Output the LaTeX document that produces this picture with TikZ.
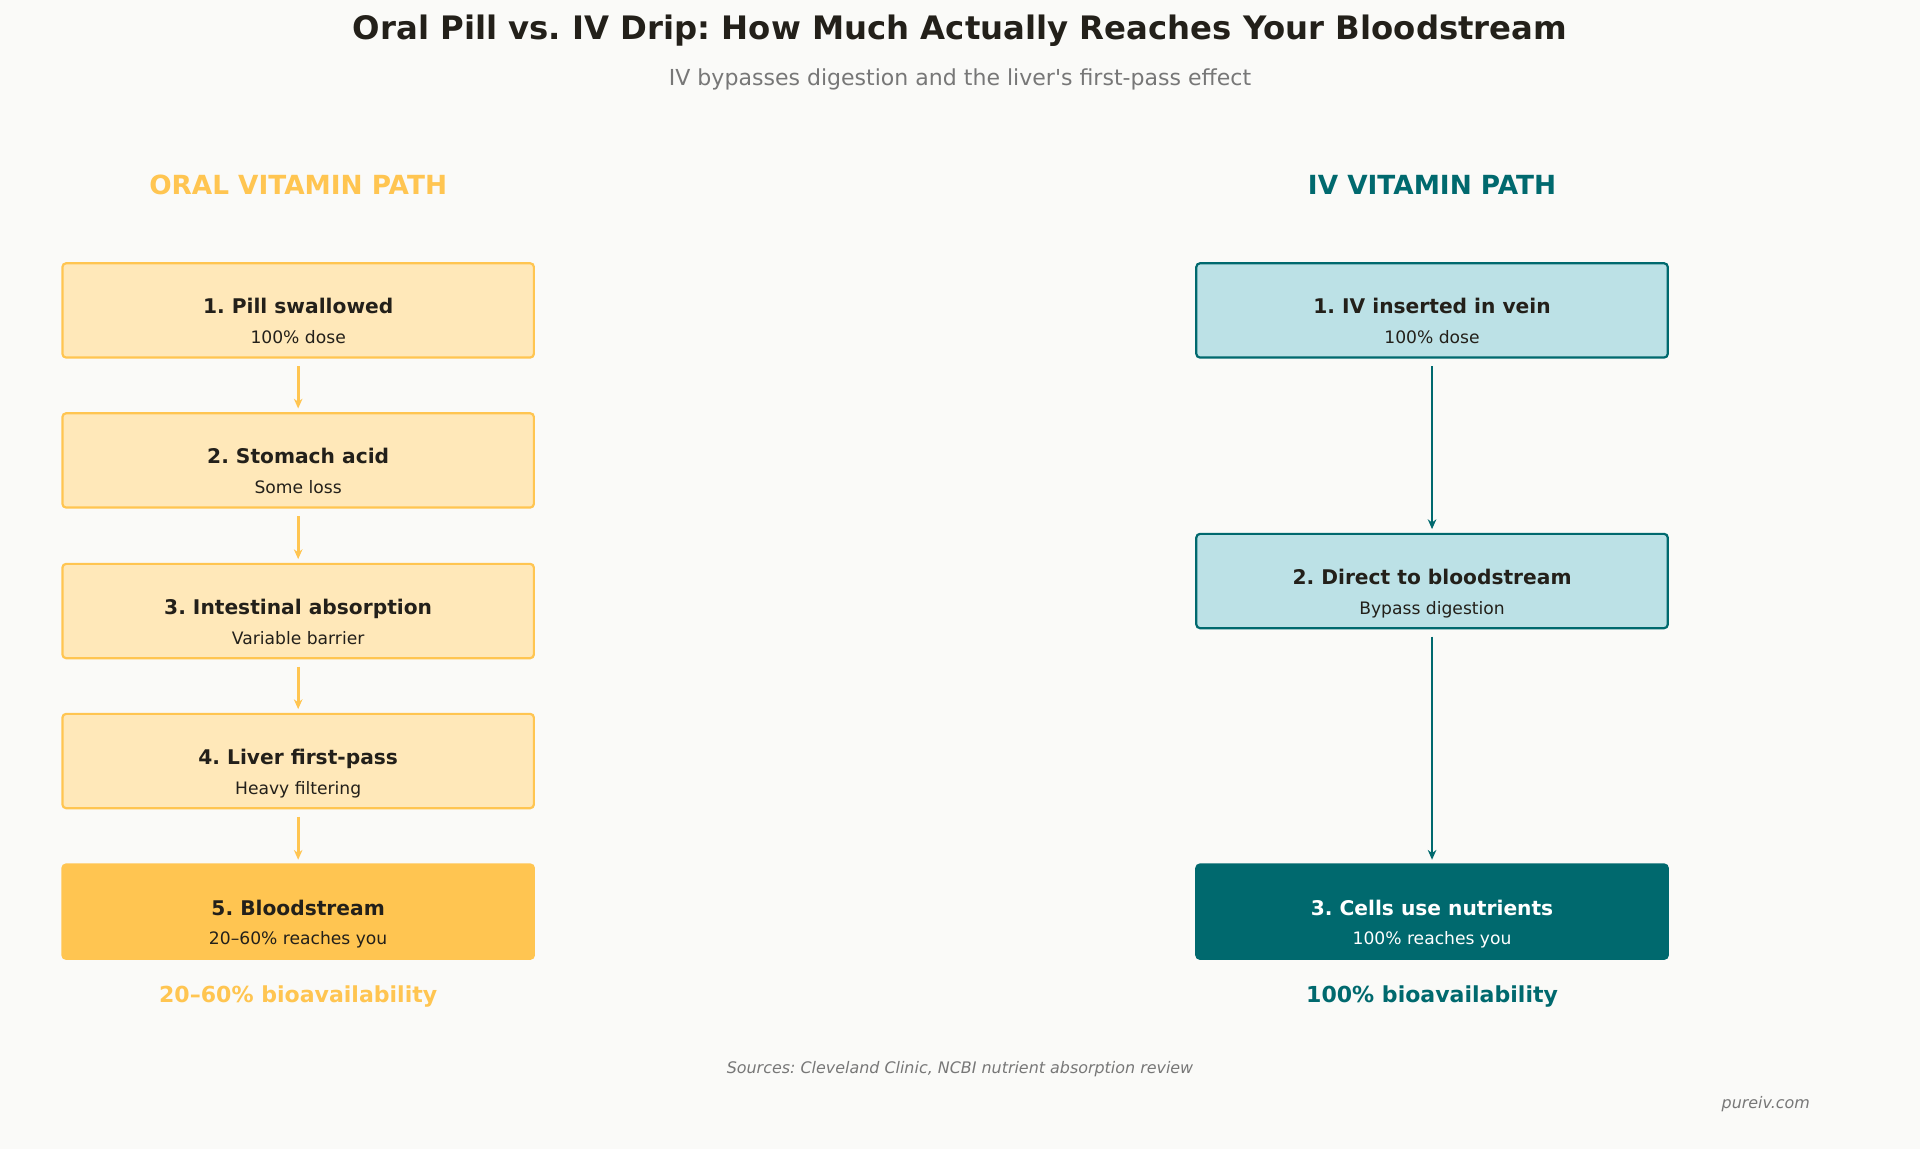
\documentclass[tikz,border=0pt]{standalone}
\usepackage{fontspec}
\setmainfont{DejaVu Sans}
\usetikzlibrary{positioning,arrows.meta}
\definecolor{bgc}{HTML}{FAFAF8}
\definecolor{oran}{HTML}{FFC551}
\definecolor{oranlt}{HTML}{FFE8B9}
\definecolor{teal}{HTML}{00696E}
\definecolor{teallt}{HTML}{BCE1E6}
\definecolor{ink}{HTML}{23201A}
\definecolor{greyt}{HTML}{777777}
\tikzset{
  stagebox/.style={draw, line width=1.8pt, rounded corners=3pt, minimum width=385pt, minimum height=77pt, text=ink},
  oralbox/.style={stagebox, draw=oran, fill=oranlt},
  ivbox/.style={stagebox, draw=teal, fill=teallt},
  oralarr/.style={draw=oran, line width=2.2pt, -{Stealth[length=8pt,width=7pt]}},
  ivarr/.style={draw=teal, line width=2.2pt, -{Stealth[length=8pt,width=7pt]}},
}
\newcommand{\steptext}[2]{\raisebox{-13pt}[0pt][0pt]{\begin{tabular}{c}\fontsize{16.5}{20}\selectfont\bfseries #1\\[10pt]\fontsize{14}{17}\selectfont #2\end{tabular}}}
\frenchspacing
\begin{document}
\begin{tikzpicture}[x=1pt,y=-1pt]
\fill[bgc] (0,0) rectangle (1568,938);
\useasboundingbox (0,0) rectangle (1568,938);
% titles
\node[text=ink, font=\fontsize{26.4}{31}\selectfont\bfseries] (title) at (784,25) {Oral Pill vs. IV Drip: How Much Actually Reaches Your Bloodstream};
\node[text=greyt, font=\fontsize{18}{22}\selectfont] (subtitle) at (784,65) {IV bypasses digestion and the liver\textquotesingle s first-pass effect};
\node[text=oran, font=\fontsize{21.5}{25}\selectfont\bfseries] (oralhead) at (243.5,151) {ORAL VITAMIN PATH};
\node[text=teal, font=\fontsize{21.5}{25}\selectfont\bfseries] (ivhead) at (1169.5,151) {IV VITAMIN PATH};
% oral path
\foreach \i/\y/\a/\b in {1/253.5/1. Pill swallowed/100\% dose, 2/376/2. Stomach acid/Some loss, 3/499/3. Intestinal absorption/Variable barrier, 4/621.5/4. Liver first-pass/Heavy filtering}
  \node[oralbox] (oral\i) at (243.5,\y) {\steptext{\a}{\b}};
\node[oralbox, fill=oran] (oral5) at (243.5,744.5) {\steptext{5. Bloodstream}{20–60\% reaches you}};
\foreach \i/\j in {1/2,2/3,3/4,4/5}
  \draw[oralarr] ([yshift=-6pt]oral\i.south) -- ([yshift=3pt]oral\j.north);
% iv path
\node[ivbox] (iv1) at (1169.5,253.5) {\steptext{1. IV inserted in vein}{100\% dose}};
\node[ivbox] (iv2) at (1169.5,474.5) {\steptext{2. Direct to bloodstream}{Bypass digestion}};
\node[ivbox, fill=teal, text=white] (iv3) at (1169.5,744.5) {\steptext{3. Cells use nutrients}{100\% reaches you}};
\draw[ivarr] ([yshift=-6pt]iv1.south) -- ([yshift=3pt]iv2.north);
\draw[ivarr] ([yshift=-6pt]iv2.south) -- ([yshift=3pt]iv3.north);
% footer
\node[text=oran, font=\fontsize{18}{22}\selectfont\bfseries] (oralbio) at (243.5,814) {20–60\% bioavailability};
\node[text=teal, font=\fontsize{18}{22}\selectfont\bfseries] (ivbio) at (1169.5,814) {100\% bioavailability};
\node[text=greyt, font=\fontsize{13}{16}\selectfont\itshape] (sources) at (784,873) {Sources: Cleveland Clinic, NCBI nutrient absorption review};
\node[text=greyt, font=\fontsize{13}{16}\selectfont\itshape] (brand) at (1442,902) {pureiv.com};
\end{tikzpicture}
\end{document}
